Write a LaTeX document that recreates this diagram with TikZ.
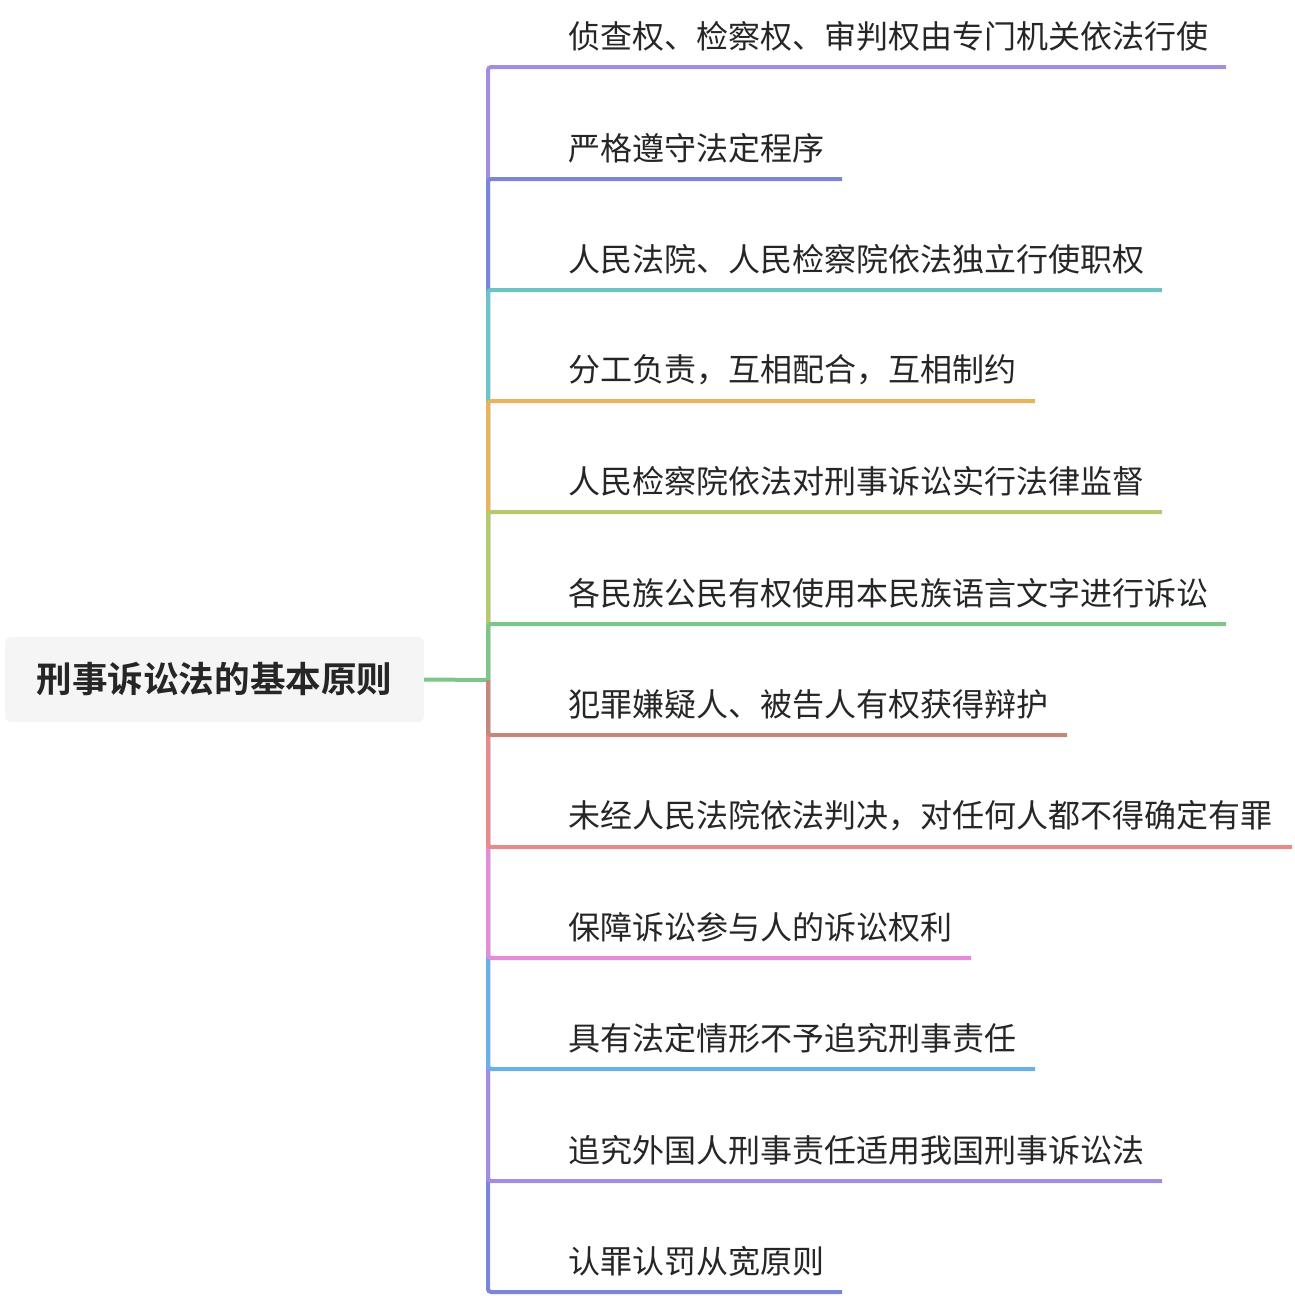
\documentclass[tikz,border=0pt]{standalone}
\usepackage{fontspec}
\setmainfont{Noto Sans CJK SC}
\newfontfamily\boldcjk{Noto Sans CJK SC Bold}
\begin{document}
\begin{tikzpicture}[x=1pt,y=-1pt,
  leaf/.style={anchor=west,inner sep=0pt,font=\fontsize{32}{36}\selectfont,text=black!85},
  branch/.style={line width=4pt,rounded corners=3pt}]
\useasboundingbox (0,0) rectangle (1294,1296);
\definecolor{cA}{HTML}{A48DE0}\definecolor{cB}{HTML}{7B86DA}
\definecolor{cC}{HTML}{6CC4C4}\definecolor{cD}{HTML}{E8B45A}
\definecolor{cE}{HTML}{B5C96E}\definecolor{cF}{HTML}{7CC68A}
\definecolor{cG}{HTML}{C4887A}\definecolor{cH}{HTML}{E88A8A}
\definecolor{cI}{HTML}{E48CD8}\definecolor{cJ}{HTML}{68B0E8}
\node[fill=black!4,rounded corners=6pt,minimum width=419pt,minimum height=85pt,inner sep=0pt,font=\boldcjk\fontsize{35.6}{38}\selectfont,text=black!85] (root) at (214.5,679.5) {刑事诉讼法的基本原则};
\coordinate (hub) at (488,680);
\draw[line width=4pt,cF] (root.east) -- (hub);
\foreach \y/\xe/\c/\t/\n in {
 67/1226/cA/侦查权、检察权、审判权由专门机关依法行使/a,
 179/842/cB/严格遵守法定程序/b,
 290/1162/cC/人民法院、人民检察院依法独立行使职权/c,
 401/1035/cD/分工负责，互相配合，互相制约/d,
 512/1162/cE/人民检察院依法对刑事诉讼实行法律监督/e,
 624/1226/cF/各民族公民有权使用本民族语言文字进行诉讼/f,
 1292/842/cB/认罪认罚从宽原则/l,
 1181/1162/cA/追究外国人刑事责任适用我国刑事诉讼法/k,
 1069/1035/cJ/具有法定情形不予追究刑事责任/j,
 958/971/cI/保障诉讼参与人的诉讼权利/i,
 847/1292/cH/未经人民法院依法判决，对任何人都不得确定有罪/h,
 735/1067/cG/犯罪嫌疑人、被告人有权获得辩护/g}{
 \node[leaf] (\n) at (568,\y-31) {\t};
 \coordinate (e\n) at (\xe,\y);
 \draw[branch,\c] (hub) |- (e\n);
}
\end{tikzpicture}
\end{document}
